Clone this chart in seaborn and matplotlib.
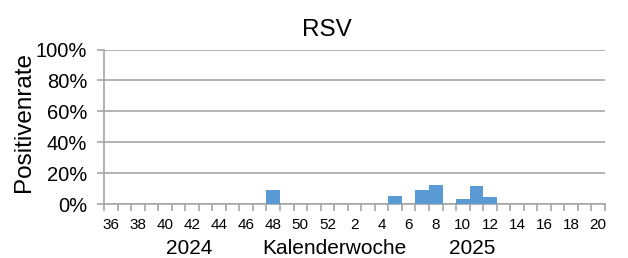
import matplotlib
matplotlib.use("Agg")
import matplotlib.pyplot as plt
import seaborn as sns
import numpy as np
import pandas as pd

# Kalenderwochen 36/2024 .. 20/2025
weeks = [str(w) for w in list(range(36, 53)) + list(range(1, 21))]
positive_rate = [0, 0, 0, 0, 0, 0, 0, 0, 0, 0, 0, 0, 9, 0, 0, 0, 0,
                 0, 0, 0, 0, 5, 0, 9, 12.5, 0, 3, 11.5, 4.5, 0, 0, 0, 0, 0, 0, 0, 0]
y_ticks = [0, 20, 40, 60, 80, 100]

sns.set_theme(style="white")
plt.rcParams["font.family"] = ["Liberation Sans", "DejaVu Sans"]
plt.rcParams["text.color"] = "black"
plt.rcParams["xtick.labelcolor"] = "black"
plt.rcParams["ytick.labelcolor"] = "black"

W, H = 628, 258
fig = plt.figure(figsize=(W / 100, H / 100), dpi=100)
ax = fig.add_axes([104 / W, 1 - 204 / H, 501 / W, 154.5 / H])

df = pd.DataFrame({"week": weeks, "rate": positive_rate})
sns.barplot(data=df, x="week", y="rate", order=weeks, color="#5B9BD5",
            saturation=1, width=1.0, linewidth=0, ax=ax, zorder=3)

ax.set_ylim(0, 100)
ax.set_xlim(-0.5, len(weeks) - 0.5)
ax.set_yticks(y_ticks)
ax.set_yticklabels([f"{t}%" for t in y_ticks], fontsize=14.5, color="black")
ax.yaxis.grid(True, color="#a6a6a6", linewidth=1.2, zorder=0)
ax.tick_params(axis="y", which="major", length=5, width=1.2, color="#a6a6a6",
               left=True, pad=7)

ax.set_xticks(range(len(weeks)))
ax.set_xticklabels([w if i % 2 == 0 else "" for i, w in enumerate(weeks)],
                   fontsize=11, color="black")
ax.tick_params(axis="x", which="major", length=0, pad=10)
ax.set_xticks(np.arange(-0.5, len(weeks), 1), minor=True)
ax.tick_params(axis="x", which="minor", length=5, width=1.2, color="#a6a6a6",
               bottom=True)

for side in ["top", "right"]:
    ax.spines[side].set_visible(False)
for side in ["left", "bottom"]:
    ax.spines[side].set_color("#a6a6a6")
    ax.spines[side].set_linewidth(1.2)

ax.set_xlabel("")
ax.set_ylabel("")
fig.text(24 / W, 1 - 122 / H, "Positivenrate", rotation=90, ha="center",
         va="center", fontsize=17.5, color="black")
fig.text(327 / W, 1 - 29.5 / H, "RSV", ha="center", va="center",
         fontsize=17.5, color="black")

fig.text(189 / W, 1 - 254 / H, "2024", ha="center", va="baseline",
         fontsize=15, color="black")
fig.text(334 / W, 1 - 254 / H, "Kalenderwoche", ha="center", va="baseline",
         fontsize=15, color="black")
fig.text(472 / W, 1 - 254 / H, "2025", ha="center", va="baseline",
         fontsize=15, color="black")

fig.savefig("out.png", dpi=100)
plt.close(fig)
